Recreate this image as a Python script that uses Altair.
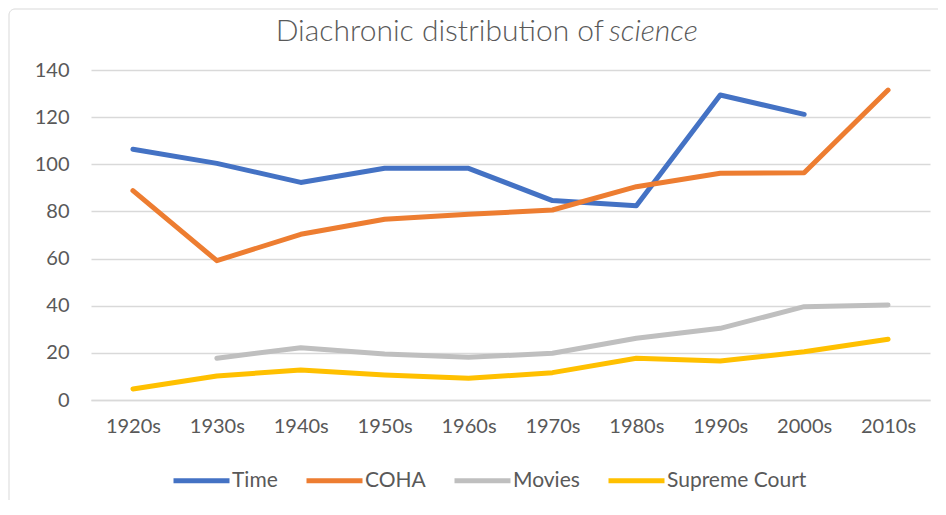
import altair as alt
import pandas as pd

decades = ["1920s", "1930s", "1940s", "1950s", "1960s", "1970s", "1980s", "1990s", "2000s", "2010s"]
series_names = ["Time", "COHA", "Movies", "Supreme Court"]
series_colors = ["#4472C4", "#ED7D31", "#BFBFBF", "#FFC000"]
time_vals = [106.4, 100.4, 92.3, 98.3, 98.3, 84.6, 82.4, 129.4, 121.2, None]
coha_vals = [88.8, 59.1, 70.3, 76.7, 78.8, 80.6, 90.5, 96.2, 96.4, 131.5]
movies_vals = [None, 17.7, 22.2, 19.5, 18.1, 19.8, 26.2, 30.4, 39.6, 40.3]
court_vals = [4.7, 10.2, 12.7, 10.6, 9.2, 11.6, 17.7, 16.5, 20.5, 25.8]
y_ticks = [0, 20, 40, 60, 80, 100, 120, 140]
title_main = "Diachronic distribution of"
title_italic = "science"

rows = []
for name, vals in zip(series_names, [time_vals, coha_vals, movies_vals, court_vals]):
    for d, v in zip(decades, vals):
        if v is not None:
            rows.append({"decade": d, "value": v, "series": name})
df = pd.DataFrame(rows)

FONT = "Lato"
GREY = "#595959"

lines = alt.Chart(df).mark_line(strokeWidth=5, strokeCap="round", strokeJoin="round").encode(
    x=alt.X("decade:O", sort=decades, title=None,
            scale=alt.Scale(domain=decades, padding=0.5),
            axis=alt.Axis(labelAngle=0, ticks=False, domainColor="#D9D9D9", domainWidth=1.3,
                          labelFont=FONT, labelFontSize=20, labelColor=GREY, labelPadding=16,
                          grid=False)),
    y=alt.Y("value:Q", title=None,
            scale=alt.Scale(domain=[0, 140], nice=False),
            axis=alt.Axis(values=y_ticks, ticks=False, domain=False, gridColor="#D9D9D9",
                          gridWidth=1.3, labelFont=FONT, labelFontSize=20, labelColor=GREY,
                          labelPadding=22)),
    color=alt.Color("series:N", sort=series_names,
                    scale=alt.Scale(domain=series_names, range=series_colors),
                    legend=alt.Legend(title=None, orient="none", direction="horizontal",
                                      legendX=80, legendY=380, symbolType="stroke",
                                      symbolSize=3136, symbolStrokeWidth=5,
                                      labelFont=FONT, labelFontSize=21, labelColor=GREY,
                                      labelOffset=0, columnPadding=18)),
    detail="series:N",
)

t1 = alt.Chart(pd.DataFrame({"t": [title_main]})).mark_text(
    font=FONT, fontSize=30, fontWeight=300, color=GREY, align="right", baseline="alphabetic"
).encode(text="t:N", x=alt.value(513), y=alt.value(-29))

t2 = alt.Chart(pd.DataFrame({"t": [title_italic]})).mark_text(
    font=FONT, fontSize=30, fontWeight=300, color=GREY, align="left", baseline="alphabetic",
    fontStyle="italic"
).encode(text="t:N", x=alt.value(518), y=alt.value(-29))

border = alt.Chart(pd.DataFrame({"b": [1]})).mark_rect(
    fill=None, stroke="#D9D9D9", strokeWidth=1, cornerRadius=6
).encode(x=alt.value(-82), x2=alt.value(900), y=alt.value(-61), y2=alt.value(520))

chart = alt.layer(border, lines, t1, t2).properties(
    width=839, height=330,
    autosize=alt.AutoSizeParams(type="none"),
    padding={"left": 83, "top": 62, "right": 8, "bottom": 100},
).configure_view(stroke=None)

chart.save("out.html", embed_options={"renderer": "svg", "actions": False})
